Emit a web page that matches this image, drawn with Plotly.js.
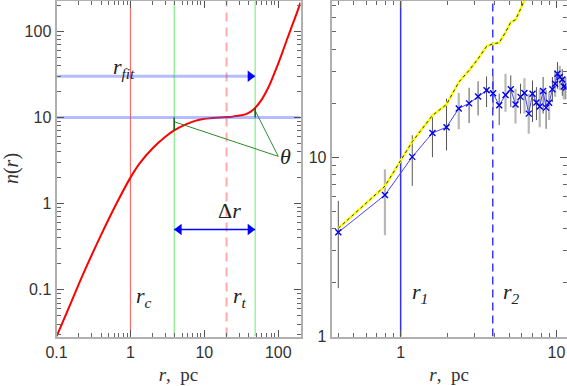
<!DOCTYPE html>
<html>
<head>
<meta charset="utf-8">
<script src="https://cdn.plot.ly/plotly-3.0.1.min.js"></script>
<style>html,body{margin:0;padding:0;background:#fff;}#chart{width:567px;height:386px;}</style>
</head>
<body>
<div id="chart"></div>
<script>
// ---------- Left panel: model curve n(r) ----------
const curveR = [0.1, 0.15, 0.229, 0.4, 0.648, 1.0, 1.34, 2.03, 3.0, 3.9, 5.74, 7.5, 9.64, 13, 16.2, 20, 24, 27.3, 32, 37.2, 42, 48.7, 60, 69.5, 80, 94.9, 110, 129, 150, 177, 200];
const curveN = [0.0287, 0.0645, 0.152, 0.43, 1.0, 2.0, 2.95, 4.45, 6.0, 7.07, 8.35, 9.1, 9.6, 9.85, 10.0, 10.1, 10.2, 10.35, 10.6, 11.0, 11.6, 12.9, 16.2, 20.2, 26.2, 37.6, 52.5, 77, 109, 160, 214];

const rCore = 1.0;           // r_c
const rTidal = 20;           // r_t (dashed)
const rGreen = [3.91, 48.7]; // Δr limits
const nLevel = 10;           // plateau level
const nFit = 30;             // r_fit arrow level
const nDelta = 0.5;          // Δr arrow level
const thetaPoint = [100, 3.53];
const thetaStartsLeft = [3.91, 8.9];
const thetaStartsRight = [48.7, 12.0];
const tickLeftLow = [3.91, 7.07];
const tickRightHigh = [48.7, 12.9];
const arrowHeadCenters = [4.56, 41.7]; // arrowhead marker centres (data units)

// ---------- Right panel: measured profile ----------
const dataR = [0.398,0.793,1.187,1.60,1.97,2.36,2.75,3.14,3.56,3.92,4.29,4.71,5.09,5.46,5.88,6.23,6.64,7.02,7.44,7.81,8.21,8.58,8.97,9.42,9.80,10.15,10.5,10.9,11.15,11.5];
const dataN = [3.81,6.15,10.04,13.65,14.7,18.7,19.96,21.8,23.6,22.7,19.5,22.2,23.9,19.7,21.7,22.8,17.5,22.6,20.2,19.2,23.4,18.9,20.1,23.9,25.7,29.2,28.0,27.1,24.8,24.5];
const errHigh = [5.71,8.56,13.26,17.1,21.2,22.8,24.4,26.5,28.2,28.2,22.6,29.2,28.6,24.1,25.7,27.6,22.6,26.8,24.6,24.1,28.0,23.6,23.1,28.0,30.5,33.9,32.4,31.0,28.0,28.0];
const errLow  = [1.86,3.67,6.92,10.0,10.9,14.3,15.5,17.1,19.05,18.5,15.1,17.9,19.05,15.4,17.5,17.5,13.5,15.7,16.1,14.7,17.5,14.4,16.1,20.3,21.7,24.1,23.6,22.0,21.0,21.0];
const errShade = ['d','l','d','d','d','l','d','d','d','d','d','l','d','l','d','l','l','d','d','l','d','d','l','d','l','d','l','d','l','d'];
const cumR = [0.398,0.793,1.187,1.60,1.97,2.36,2.75,3.14,3.56,3.92,4.29,4.71,5.09,5.46,5.88,6.23,6.64];
const cumN = [4.01,6.9,12.2,17.1,19.7,26.2,30.5,35.4,41.5,42.9,43.5,49.7,56.6,58.4,67.0,75,85];
const r1 = 1.0, r2 = 3.9;

// ---------- axis ranges / ticks ----------
const xRangeL = [0.1, 200], yRangeL = [0.0287, 227];
const xRangeR = [0.361, 11.6], yRangeR = [1, 74.8];
const W = 567, H = 386;
const px = x => x / W, py = y => 1 - y / H;

function minorVals(lo, hi) {
  const out = [];
  for (let e = -3; e <= 4; e++) for (let m = 2; m <= 9; m++) {
    const v = m * Math.pow(10, e);
    if (v > lo && v < hi) out.push(v);
  }
  return out;
}

const traces = [];
const base = {type: 'scatter', showlegend: false, hoverinfo: 'skip', cliponaxis: true};
function line(xs, ys, color, width, dash, xa, ya) {
  traces.push(Object.assign({}, base, {x: xs, y: ys, mode: 'lines', line: {color: color, width: width, dash: dash || 'solid'}, xaxis: xa || 'x', yaxis: ya || 'y'}));
}

// left panel
line([rCore, rCore], yRangeL, '#ff5a5a', 1);
line([rGreen[0], rGreen[0]], yRangeL, '#66ee66', 1);
line([rGreen[1], rGreen[1]], yRangeL, '#66ee66', 1);
line([rTidal, rTidal], yRangeL, '#ffaaaa', 2, '9px,6px');
traces.push(Object.assign({}, base, {x: curveR, y: curveN, mode: 'lines', line: {color: '#ff0000', width: 2, shape: 'spline', smoothing: 1}}));
line([thetaStartsLeft[0], thetaPoint[0]], [thetaStartsLeft[1], thetaPoint[1]], '#2e8b2e', 1);
line([thetaStartsRight[0], thetaPoint[0]], [thetaStartsRight[1], thetaPoint[1]], '#2e8b2e', 1);
line([tickLeftLow[0], tickLeftLow[0]], [tickLeftLow[1], nLevel], '#106010', 1.5);
line([tickRightHigh[0], tickRightHigh[0]], [nLevel, tickRightHigh[1]], '#106010', 1.5);
line(xRangeL, [nLevel, nLevel], 'rgba(70,90,255,0.4)', 3);
line([xRangeL[0], rGreen[1]], [nFit, nFit], 'rgba(70,90,255,0.4)', 3);
traces.push(Object.assign({}, base, {x: [arrowHeadCenters[1]], y: [nFit], mode: 'markers', marker: {symbol: 'triangle-right', size: 10, color: '#0000ff'}}));
line(rGreen, [nDelta, nDelta], '#0000ff', 1.5);
traces.push(Object.assign({}, base, {x: arrowHeadCenters, y: [nDelta, nDelta], mode: 'markers', marker: {symbol: ['triangle-left', 'triangle-right'], size: 10, color: '#0000ff'}}));

// right panel
function errTrace(shade, color, width) {
  const xs = [], ys = [], up = [], dn = [];
  dataR.forEach((r, i) => { if (errShade[i] === shade) { xs.push(r); ys.push(dataN[i]); up.push(errHigh[i] - dataN[i]); dn.push(dataN[i] - errLow[i]); } });
  traces.push(Object.assign({}, base, {x: xs, y: ys, mode: 'markers', marker: {size: 1, opacity: 0}, xaxis: 'x2', yaxis: 'y2',
    error_y: {type: 'data', symmetric: false, array: up, arrayminus: dn, color: color, thickness: width, width: 0}}));
}
errTrace('l', '#b8b8b8', 2.2);
errTrace('d', '#555555', 1);
line([r1, r1], yRangeR, '#3030ff', 1.5, 'solid', 'x2', 'y2');
line([r2, r2], yRangeR, '#3a3aff', 1.5, '8px,5px', 'x2', 'y2');
line(cumR, cumN, '#ffff00', 2.5, 'solid', 'x2', 'y2');
line(cumR, cumN, '#333333', 1, 'dot', 'x2', 'y2');
traces.push(Object.assign({}, base, {x: dataR, y: dataN, mode: 'lines+markers', xaxis: 'x2', yaxis: 'y2',
  line: {color: '#4545ff', width: 1},
  marker: {symbol: 'x-thin', size: 6, line: {width: 1.4, color: '#0000ee'}}}));

const tickFont = {family: 'Liberation Sans', size: 16, color: '#333'};
function axis(range, domain, anchor, tv, minor, extra) {
  return Object.assign({
    type: 'log', range: range.map(Math.log10), domain: domain, anchor: anchor,
    showline: true, linecolor: '#b0b0b0', linewidth: 2, mirror: 'ticks',
    ticks: 'inside', ticklen: 7, tickwidth: 1, tickcolor: '#555',
    tickmode: 'array', tickvals: tv, ticktext: tv.map(String),
    minor: {ticks: 'inside', ticklen: 4, tickwidth: 1, tickcolor: '#666', tickmode: 'array', tickvals: minor},
    showgrid: false, zeroline: false, tickfont: tickFont, automargin: false
  }, extra || {});
}
const xTitle = () => ({text: '<i>r</i>,  pc', font: {family: 'Liberation Serif', size: 19, color: '#333'}, standoff: 8});

const layout = {
  width: W, height: H, margin: {l: 0, r: 0, t: 0, b: 0},
  paper_bgcolor: '#fff', plot_bgcolor: '#fff', showlegend: false,
  xaxis: axis(xRangeL, [56.5 / W, 300.5 / W], 'y', [0.1, 1, 10, 100], minorVals(0.1, 200), {title: xTitle()}),
  yaxis: axis(yRangeL, [49.5 / H, 385.5 / H], 'x', [0.1, 1, 10, 100], minorVals(0.0287, 227),
    {title: {text: '<i>n</i>(<i>r</i>)', font: {family: 'Liberation Serif', size: 20, color: '#333'}, standoff: 2}}),
  xaxis2: axis(xRangeR, [331.7 / W, 566.5 / W], 'y2', [1, 10], minorVals(0.361, 11.6), {title: xTitle()}),
  yaxis2: axis(yRangeR, [49.5 / H, 385.5 / H], 'x2', [1, 10], minorVals(1, 74.8)),
  annotations: []
};
const labFont = {family: 'Liberation Serif', size: 22, color: '#222'};
function lab(text, x, y) {
  layout.annotations.push({text: text, x: px(x), y: py(y), xref: 'paper', yref: 'paper', showarrow: false, xanchor: 'center', yanchor: 'middle', font: labFont});
}
lab('<i>r</i><sub><i>fit</i></sub>', 124, 68);
lab('<i>θ</i>', 285, 156);
lab('Δ<i>r</i>', 229, 210);
lab('<i>r</i><sub><i>c</i></sub>', 144, 297);
lab('<i>r</i><sub><i>t</i></sub>', 240, 297);
lab('<i>r</i><sub><i>1</i></sub>', 420, 293);
lab('<i>r</i><sub><i>2</i></sub>', 511, 293);

Plotly.newPlot('chart', traces, layout, {staticPlot: true, displayModeBar: false});
</script>
</body>
</html>
